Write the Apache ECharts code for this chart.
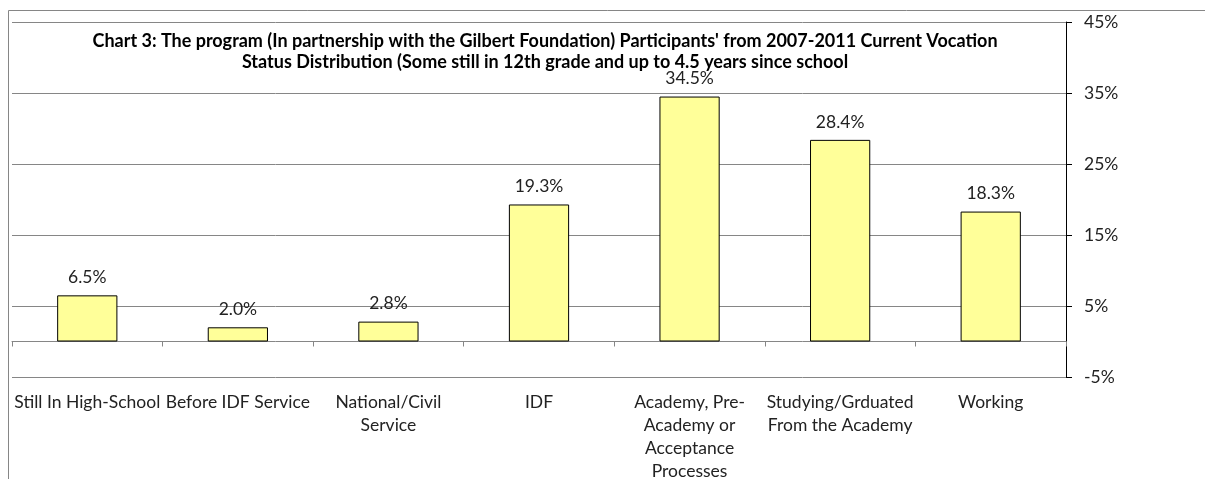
<!DOCTYPE html>
<html>
<head>
<meta charset="utf-8">
<script src="https://cdn.jsdelivr.net/npm/echarts@6/dist/echarts.min.js"></script>
<style>
  html, body { margin: 0; padding: 0; background: #fff; }
  #chart { width: 1205px; height: 479px; }
</style>
</head>
<body>
<div id="chart"></div>
<script>
const categories = [
  'Still In High-School',
  'Before IDF Service',
  'National/Civil\nService',
  'IDF',
  'Academy, Pre-\nAcademy or\nAcceptance\nProcesses',
  'Studying/Grduated\nFrom the Academy',
  'Working'
]
const shares = [6.5, 2.0, 2.8, 19.3, 34.5, 28.4, 18.3]
const yTicks = { min: -5, max: 45, step: 10 }
const titleText = "Chart 3: The program (In partnership with the Gilbert Foundation) Participants' from 2007-2011 Current Vocation\nStatus Distribution (Some still in 12th grade and up to 4.5 years since school"

const font = 'Lato, "Open Sans", sans-serif'
const gridColor = '#868686'

const chart = echarts.init(document.getElementById('chart'), null, { renderer: 'canvas' })

const option = {
  animation: false,
  backgroundColor: '#fff',
  title: {
    text: titleText,
    left: 540,
    top: 26,
    textAlign: 'center',
    textStyle: {
      fontFamily: font,
      fontSize: 18,
      fontWeight: 'bold',
      color: '#000',
      lineHeight: 21
    }
  },
  graphic: [
    {
      type: 'rect',
      shape: { x: 8.5, y: 10.5, width: 1300, height: 600 },
      style: { fill: 'none', stroke: gridColor, lineWidth: 1 },
      silent: true,
      z: -1
    }
  ],
  grid: {
    left: 12,
    right: 139,
    top: 22,
    bottom: 102,
    containLabel: false,
    outerBoundsMode: 'none'
  },
  xAxis: {
    type: 'category',
    data: categories,
    axisLine: {
      onZero: true,
      lineStyle: { color: gridColor, width: 1 }
    },
    axisTick: {
      show: true,
      length: 5,
      lineStyle: { color: gridColor }
    },
    axisLabel: {
      margin: 14,
      interval: 0,
      fontFamily: font,
      fontSize: 17.5,
      lineHeight: 23,
      color: '#222'
    }
  },
  yAxis: {
    type: 'value',
    position: 'right',
    min: yTicks.min,
    max: yTicks.max,
    interval: yTicks.step,
    axisLine: { show: true, lineStyle: { color: '#000', width: 1 } },
    axisTick: { show: true, length: 6, lineStyle: { color: '#000' } },
    axisLabel: {
      margin: 18,
      fontFamily: font,
      fontSize: 17.5,
      color: '#222',
      formatter: v => v + '%'
    },
    splitLine: {
      show: true,
      lineStyle: { color: gridColor, width: 1 }
    }
  },
  series: [
    {
      type: 'bar',
      data: shares,
      barWidth: '40%',
      itemStyle: {
        color: '#FFFF99',
        borderColor: '#000',
        borderWidth: 1
      },
      label: {
        show: true,
        position: 'top',
        distance: 9,
        fontFamily: font,
        fontSize: 17.5,
        color: '#222',
        formatter: p => p.value.toFixed(1) + '%'
      }
    }
  ]
}

chart.setOption(option)
</script>
</body>
</html>
